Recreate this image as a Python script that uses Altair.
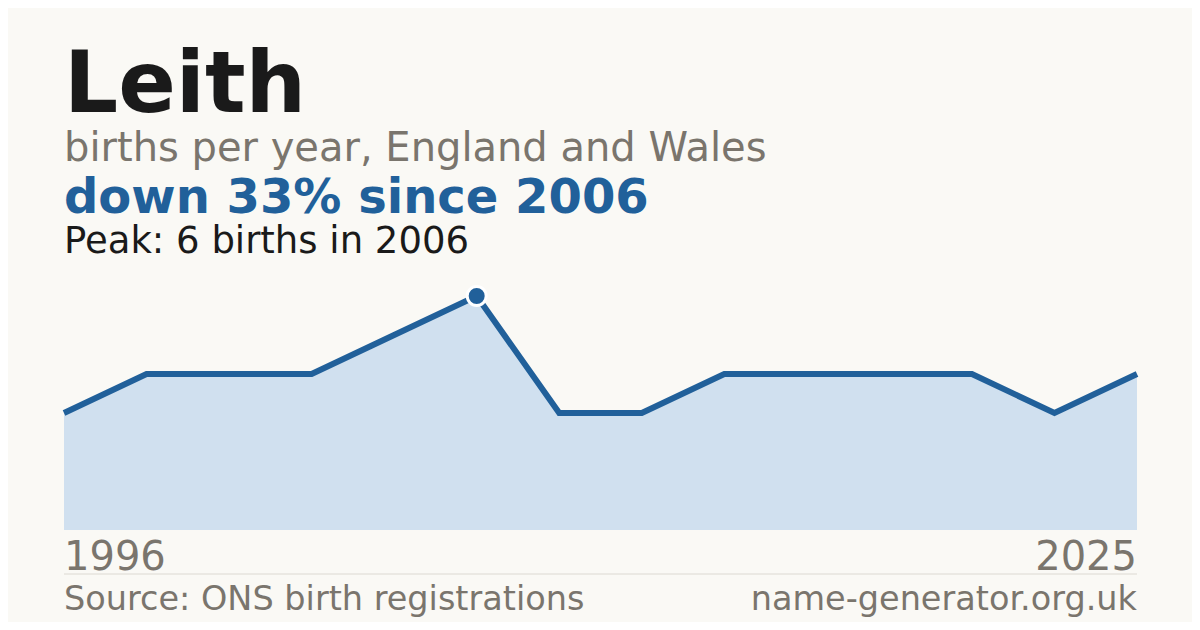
import altair as alt
import pandas as pd

# ---- data ----
years = [1996, 1998, 2000, 2002, 2004, 2006, 2008, 2010, 2012, 2014, 2016, 2018, 2021, 2025]
births = [3, 4, 4, 4, 5, 6, 3, 3, 4, 4, 4, 4, 3, 4]
name = "Leith"
subtitle = "births per year, England and Wales"
headline = "down 33% since 2006"
peak_text = "Peak: 6 births in 2006"
source_text = "Source: ONS birth registrations"
site_text = "name-generator.org.uk"

df = pd.DataFrame({"year": years, "births": births})

FONT = "DejaVu Sans"
BLUE = "#21609a"
FILL = "#d0e0ef"
GRAY = "#7a756d"
INK = "#1a1a1a"
BG = "#faf9f5"

W = 1073
H = 260

x = alt.X("year:O", scale=alt.Scale(padding=0), axis=None)
y = alt.Y("births:Q", scale=alt.Scale(domain=[0, 6 * H / 234], nice=False), axis=None)

base = alt.Chart(df)

area = base.mark_area(color=FILL, opacity=1).encode(x=x, y=y)
line = base.mark_line(color=BLUE, strokeWidth=6, strokeCap="butt").encode(x=x, y=y)
peak = base.transform_filter(f"datum.births == {max(births)}").mark_point(
    filled=True, fill=BLUE, stroke="white", strokeWidth=3, size=360, opacity=1, shape="circle"
).encode(x=x, y=y)

first_lab = base.transform_filter(f"datum.year == {years[0]}").mark_text(
    align="left", baseline="alphabetic", font=FONT, fontSize=40, color=GRAY
).encode(x=x, y=alt.value(H + 40), text="year:N")
last_lab = base.transform_filter(f"datum.year == {years[-1]}").mark_text(
    align="right", baseline="alphabetic", font=FONT, fontSize=40, color=GRAY
).encode(x=x, y=alt.value(H + 40), text="year:N")


def txt(s, yv, size, color, bold=False, align="left", xv=0):
    return alt.Chart(pd.DataFrame({"t": [s]})).mark_text(
        align=align, baseline="alphabetic", font=FONT, fontSize=size,
        fontWeight="bold" if bold else "normal", color=color
    ).encode(x=alt.value(xv), y=alt.value(yv), text="t:N")


title = txt(name, -158, 85, INK, bold=True)
sub = txt(subtitle, -109, 40, GRAY)
head = txt(headline, -57, 48, BLUE, bold=True)
pk = txt(peak_text, -17, 37, INK)
src = txt(source_text, H + 80, 33.5, GRAY)
site = txt(site_text, H + 80, 33.5, GRAY, align="right", xv=W)

sep = alt.Chart(pd.DataFrame({"a": [0]})).mark_rule(color="#dcd9d2", strokeWidth=1).encode(
    x=alt.value(0), x2=alt.value(W), y=alt.value(H + 44)
)

chart = alt.layer(
    area, line, peak, first_lab, last_lab, sep, title, sub, head, pk, src, site
).properties(
    width=W, height=H,
    autosize=alt.AutoSizeParams(type="none"),
    padding={"left": 56, "top": 262, "right": 55, "bottom": 92},
    background=BG,
).configure_view(stroke=None)

chart.save("out.html", embed_options={"renderer": "svg", "actions": False})
